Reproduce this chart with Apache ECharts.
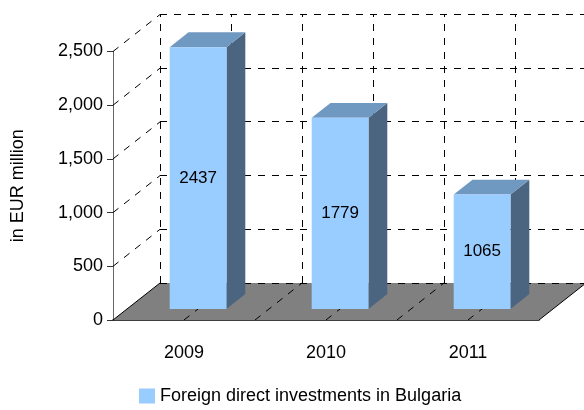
<!DOCTYPE html>
<html>
<head>
<meta charset="utf-8">
<script src="https://cdn.jsdelivr.net/npm/echarts@6/dist/echarts.min.js"></script>
<style>
html, body { margin: 0; padding: 0; background: #fff; }
#chart { width: 584px; height: 410px; }
</style>
</head>
<body>
<div id="chart"></div>
<script>
var years = ['2009', '2010', '2011'];
var fdiValues = [2437, 1779, 1065];
var yTicks = [0, 500, 1000, 1500, 2000, 2500];
var seriesName = 'Foreign direct investments in Bulgaria';

var FONT = "'Liberation Sans', Arial, sans-serif";
// depth of the 3d box in pixels
var DX = 47, DY = -37;

function crisp(v) {
    return Math.round(v - 0.5) + 0.5;
}

function wallItem(params, api) {
    var band = api.size([1, 0])[0];
    var x0 = api.coord([0, 0])[0] - band / 2;
    var x1 = x0 + band * years.length;
    var y0 = api.coord([0, 0])[1];
    var yTop = api.coord([0, yTicks[yTicks.length - 1]])[1];
    var dash = { stroke: '#000', lineWidth: 1, lineDash: [7, 7] };
    var kids = [];

    kids.push({
        type: 'polygon',
        shape: { points: [[x0, y0], [x1, y0], [x1 + DX, y0 + DY], [x0 + DX, y0 + DY]] },
        style: { fill: '#808080' }
    });
    kids.push({ type: 'line', shape: { x1: x0, y1: y0, x2: x0 + DX, y2: y0 + DY }, style: { stroke: '#000', lineWidth: 1 } });
    kids.push({ type: 'line', shape: { x1: x1, y1: y0, x2: x1 + DX, y2: y0 + DY }, style: { stroke: '#000', lineWidth: 1 } });

    // horizontal lines on the back wall + diagonals on the side wall
    yTicks.forEach(function (t) {
        var y = api.coord([0, t])[1];
        var yy = crisp(y + DY);
        kids.push({ type: 'line', shape: { x1: x0 + DX, y1: yy, x2: x1 + DX, y2: yy }, style: dash });
        if (t > 0) {
            kids.push({ type: 'line', shape: { x1: x0, y1: y, x2: x0 + DX, y2: y + DY }, style: dash });
        }
    });

    // vertical lines on back wall, diagonals on floor (every half category)
    for (var k = 0; k <= years.length * 2; k++) {
        var x = x0 + k * band / 2;
        var xx = crisp(x + DX);
        kids.push({ type: 'line', shape: { x1: xx, y1: y0 + DY, x2: xx, y2: yTop + DY }, style: dash });
        if (k > 0 && k < years.length * 2) {
            kids.push({ type: 'line', shape: { x1: x, y1: y0, x2: x + DX, y2: y0 + DY }, style: dash });
        }
    }
    return { type: 'group', children: kids };
}

function barItem(params, api) {
    var i = api.value(0);
    var v = api.value(1);
    var base = api.coord([i, 0]);
    var top = api.coord([i, v]);
    var band = api.size([1, 0])[0];
    var w = band * 0.4;
    // bar sits between 30% and 70% of the depth
    var fx = DX * 0.3, fy = DY * 0.3;
    var dx = DX * 0.4, dy = DY * 0.4;
    var l = base[0] - w / 2 + fx;
    var r = l + w;
    var b = base[1] + fy;
    var t = top[1] + fy;
    return {
        type: 'group',
        children: [
            {
                type: 'polygon',
                shape: { points: [[r, b], [r + dx, b + dy], [r + dx, t + dy], [r, t]] },
                style: { fill: '#4B6580' }
            },
            {
                type: 'polygon',
                shape: { points: [[l, t], [r, t], [r + dx, t + dy], [l + dx, t + dy]] },
                style: { fill: '#7099C1' }
            },
            {
                type: 'rect',
                shape: { x: l, y: t, width: w, height: b - t },
                style: { fill: '#99CCFF' }
            },
            {
                type: 'text',
                style: {
                    text: String(v),
                    x: (l + r) / 2,
                    y: (t + b) / 2,
                    align: 'center',
                    verticalAlign: 'middle',
                    fill: '#000',
                    font: '17px ' + FONT
                }
            }
        ]
    };
}

var chart = echarts.init(document.getElementById('chart'));
chart.setOption({
    animation: false,
    textStyle: { fontFamily: FONT },
    grid: { left: 113, right: 45, top: 51.5, bottom: 90 },
    legend: {
        data: [{ name: seriesName, icon: 'rect', itemStyle: { color: '#99CCFF' } }],
        left: 139,
        top: 387,
        padding: 0,
        itemWidth: 16,
        itemHeight: 15,
        textStyle: { fontSize: 18, color: '#000', fontFamily: FONT }
    },
    xAxis: {
        type: 'category',
        data: years,
        axisLine: { lineStyle: { color: '#000', width: 1.5 } },
        axisTick: { length: 7, lineStyle: { color: '#000' } },
        axisLabel: { margin: 24, fontSize: 18, color: '#000', fontFamily: FONT },
        splitLine: { show: false }
    },
    yAxis: {
        type: 'value',
        min: 0,
        max: 2500,
        interval: 500,
        name: 'in EUR million',
        nameLocation: 'middle',
        nameGap: 86,
        nameRotate: 90,
        nameTextStyle: { fontSize: 18, color: '#000', fontFamily: FONT },
        axisLine: { show: true, lineStyle: { color: '#666' } },
        axisTick: { show: true, length: 6, lineStyle: { color: '#333' } },
        axisLabel: {
            margin: 10,
            fontSize: 18,
            color: '#000',
            fontFamily: FONT,
            formatter: function (v) { return v.toLocaleString('en-US'); }
        },
        splitLine: { show: false }
    },
    series: [
        {
            type: 'custom',
            name: 'walls',
            silent: true,
            z: 1,
            renderItem: wallItem,
            data: [[0, 0]]
        },
        {
            type: 'custom',
            name: seriesName,
            z: 5,
            itemStyle: { color: '#99CCFF' },
            renderItem: barItem,
            encode: { x: 0, y: 1 },
            data: fdiValues.map(function (v, i) { return [i, v]; })
        }
    ]
});
</script>
</body>
</html>
